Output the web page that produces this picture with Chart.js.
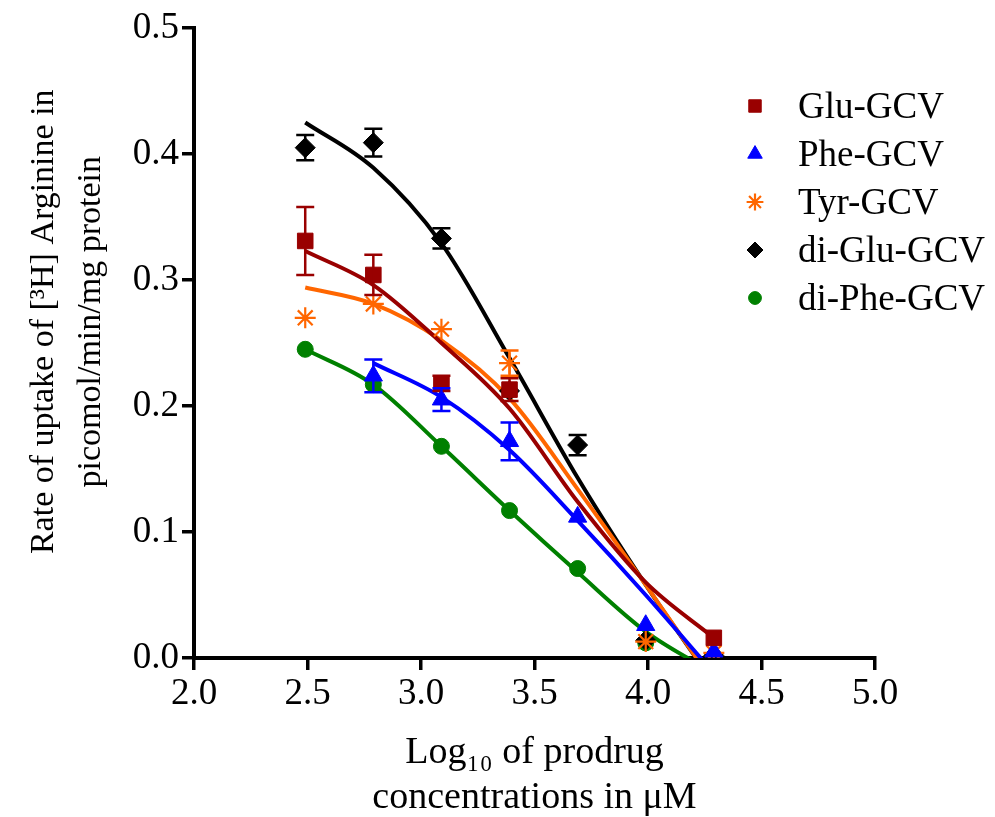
<!DOCTYPE html>
<html>
<head>
<meta charset="utf-8">
<script src="https://cdn.jsdelivr.net/npm/chart.js@4.4.0/dist/chart.umd.min.js"></script>
<style>
html,body{margin:0;padding:0;background:#fff;}
canvas{display:block;}
</style>
</head>
<body>
<canvas id="c" width="995" height="817"></canvas>
<script>
// ---- data ----
const seriesNames = ['Glu-GCV', 'Phe-GCV', 'Tyr-GCV', 'di-Glu-GCV', 'di-Phe-GCV'];
const logConc = [2.49, 2.79, 3.09, 3.39, 3.69, 3.99, 4.29];

const gluValues   = [0.331, 0.304, 0.218, 0.213, null, null, 0.016];
const gluErrors   = [0.027, 0.016, 0.006, 0.009, null, null, 0.002];
const pheValues   = [null, 0.224, 0.205, 0.172, 0.112, 0.026, 0.005];
const pheErrors   = [null, 0.013, 0.009, 0.015, 0.002, 0.002, 0.002];
const tyrValues   = [0.270, 0.281, 0.261, 0.234, null, 0.013, 0.004];
const tyrErrors   = [0.002, 0.003, 0.002, 0.010, null, 0.002, 0.001];
const diGluValues = [0.405, 0.409, 0.333, 0.212, 0.169, 0.014, 0.002];
const diGluErrors = [0.010, 0.011, 0.008, 0.004, 0.008, 0.002, 0.001];
const diPheValues = [0.245, 0.217, 0.168, 0.117, 0.071, 0.012, 0.001];

// fitted curves, points
const curveX      = [2.49, 2.79, 3.09, 3.39, 3.69, 3.99, 4.29];
const gluCurveY   = [0.323, 0.296, 0.250, 0.198, 0.124, 0.060, 0.016];
const pheCurveY   = [null, 0.234, 0.207, 0.165, 0.109, 0.050, -0.012];
const tyrCurveY   = [0.294, 0.281, 0.252, 0.206, 0.134, 0.058, -0.020];
const diGluCurveY = [0.425, 0.389, 0.329, 0.238, 0.143, 0.058, -0.020];
const diPheCurveY = [0.245, 0.217, 0.168, 0.117, 0.068, 0.021, -0.012];

const xTickValues = [2.0, 2.5, 3.0, 3.5, 4.0, 4.5, 5.0];
const xTickLabels = ['2.0', '2.5', '3.0', '3.5', '4.0', '4.5', '5.0'];
const yTickValues = [0.0, 0.1, 0.2, 0.3, 0.4, 0.5];
const yTickLabels = ['0.0', '0.1', '0.2', '0.3', '0.4', '0.5'];

// ---- styling ----
const FONT = '"Liberation Serif", "Times New Roman", serif';
const colors = ['#990000', '#0000FF', '#FF6600', '#000000', '#008000'];
const styles = ['rect', 'triangle', 'star', 'rectRot', 'circle'];
const radii  = [11, 10.5, 10.5, 10, 8];

const pointSets = [gluValues, pheValues, tyrValues, diGluValues, diPheValues];
const errorSets = [gluErrors, pheErrors, tyrErrors, diGluErrors, null];
const curveSets = [gluCurveY, pheCurveY, tyrCurveY, diGluCurveY, diPheCurveY];

const toXY = (xs, ys) => xs.map((x, i) => ({x: x, y: ys[i]})).filter(p => p.y !== null);

const datasets = [];
seriesNames.forEach((name, i) => {
  datasets.push({
    label: name,
    isPoints: true,
    data: toXY(logConc, pointSets[i]),
    errors: errorSets[i] ? errorSets[i].filter((e, j) => pointSets[i][j] !== null) : null,
    showLine: false,
    pointStyle: styles[i],
    pointRadius: radii[i],
    pointHoverRadius: radii[i],
    pointBackgroundColor: colors[i],
    pointBorderColor: colors[i],
    pointBorderWidth: styles[i] === 'star' ? 2.2 : 1,
    borderColor: colors[i],
    backgroundColor: colors[i],
    order: 0
  });
});
seriesNames.forEach((name, i) => {
  datasets.push({
    label: name + ' fit',
    data: toXY(curveX, curveSets[i]),
    showLine: true,
    borderColor: colors[i],
    borderWidth: 4,
    pointRadius: 0,
    fill: false,
    cubicInterpolationMode: 'monotone',
    order: 5
  });
});

const errorBarPlugin = {
  id: 'errorBars',
  afterDatasetsDraw(chart) {
    const ctx = chart.ctx, xs = chart.scales.x, ys = chart.scales.y;
    chart.data.datasets.forEach((ds) => {
      if (!ds.errors) return;
      ctx.save();
      ctx.strokeStyle = ds.borderColor;
      ctx.lineWidth = 2.5;
      ds.data.forEach((p, j) => {
        const e = ds.errors[j];
        if (!e) return;
        const px = xs.getPixelForValue(p.x);
        const top = ys.getPixelForValue(p.y + e);
        const bot = ys.getPixelForValue(p.y - e);
        if (bot - top < 14) return; // hidden behind marker
        ctx.beginPath();
        ctx.moveTo(px, top); ctx.lineTo(px, bot);
        ctx.moveTo(px - 9, top); ctx.lineTo(px + 9, top);
        ctx.moveTo(px - 9, bot); ctx.lineTo(px + 9, bot);
        ctx.stroke();
      });
      ctx.restore();
    });
  }
};

const sideLegendPlugin = {
  id: 'sideLegend',
  afterDraw(chart) {
    const ctx = chart.ctx;
    const items = chart.data.datasets.filter(d => d.isPoints);
    const markerX = 755, textX = 798, top = 106, step = 48;
    ctx.save();
    items.forEach((ds, k) => {
      const y = top + k * step;
      ctx.fillStyle = ds.pointBackgroundColor;
      ctx.strokeStyle = ds.pointBorderColor;
      ctx.lineWidth = ds.pointBorderWidth;
      Chart.helpers.drawPoint(ctx, {
        pointStyle: ds.pointStyle,
        radius: ds.pointRadius * 0.8,
        borderWidth: ds.pointBorderWidth,
        rotation: 0
      }, markerX, y);
      ctx.fillStyle = '#000';
      ctx.font = '37px ' + FONT;
      ctx.textBaseline = 'middle';
      ctx.textAlign = 'left';
      ctx.fillText(ds.label, textX, y + 2);
    });
    ctx.restore();
  }
};

const sp = '\u00A0'.repeat(5);

new Chart(document.getElementById('c'), {
  type: 'line',
  data: {datasets: datasets},
  plugins: [errorBarPlugin, sideLegendPlugin],
  options: {
    responsive: false,
    animation: false,
    devicePixelRatio: 1,
    layout: {padding: {top: 28, right: 120, left: 0, bottom: 0}},
    plugins: {legend: {display: false}, tooltip: {enabled: false}},
    scales: {
      x: {
        type: 'linear', min: 2, max: 5,
        afterBuildTicks: s => { s.ticks = xTickValues.map(v => ({value: v})); },
        afterFit: s => { s.height = 159; },
        ticks: {
          callback: (v, i) => xTickLabels[i],
          font: {family: FONT, size: 37}, color: '#000', padding: 2,
          maxRotation: 0, autoSkip: false
        },
        grid: {display: true, drawOnChartArea: false, drawTicks: true, tickLength: 12, lineWidth: 3.5, color: '#000'},
        border: {display: true, width: 4, color: '#000'},
        title: {
          display: true,
          text: ['Log\u2081\u2080 of prodrug', 'concentrations in \u03BCM'],
          font: {family: FONT, size: 38, lineHeight: 1.2}, color: '#000',
          padding: {top: 0, bottom: -4}
        }
      },
      y: {
        type: 'linear', min: 0, max: 0.5,
        afterBuildTicks: s => { s.ticks = yTickValues.map(v => ({value: v})); },
        afterFit: s => { s.width = 194; },
        ticks: {
          callback: (v, i) => yTickLabels[i],
          font: {family: FONT, size: 37}, color: '#000', padding: 3
        },
        grid: {display: true, drawOnChartArea: false, drawTicks: true, tickLength: 12, lineWidth: 3.5, color: '#000'},
        border: {display: true, width: 4, color: '#000'},
        title: {
          display: true,
          text: [sp + 'Rate of uptake of [\u00B3H] Arginine in', sp + 'picomol/min/mg protein'],
          font: {family: FONT, size: 34, lineHeight: 1.4}, color: '#000',
          padding: {top: 20, bottom: 0}
        }
      }
    }
  }
});
</script>
</body>
</html>
